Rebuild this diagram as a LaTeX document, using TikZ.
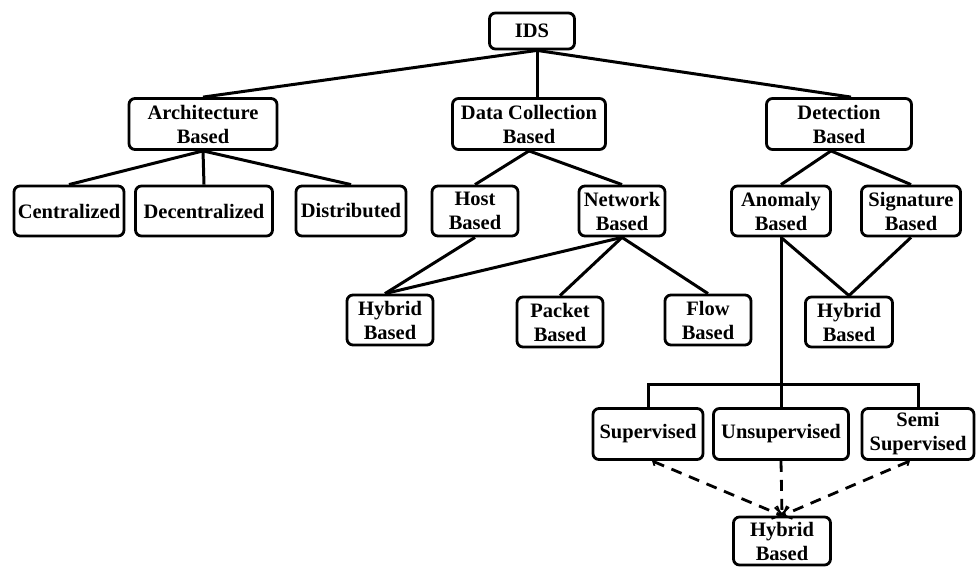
\documentclass[tikz,border=0pt]{standalone}
\usepackage{fontspec}
\setmainfont{Liberation Serif}
\usetikzlibrary{arrows.meta}
\begin{document}
\begin{tikzpicture}[x=1pt,y=-1pt,
  box/.style={draw, line width=2.8pt, rounded corners=6pt, inner sep=0pt, align=center,
    font=\fontsize{20.5}{24}\selectfont\bfseries},
  conn/.style={line width=3pt},
  dconn/.style={line width=2.8pt, dash pattern=on 11pt off 8pt},
  tip/.style={-{Straight Barb[length=7pt,width=14pt,line width=2pt]}},
  ttip/.style={{Straight Barb[length=3pt,width=7pt,line width=1.8pt]}-{Straight Barb[length=7pt,width=14pt,line width=2pt]}}
]
\useasboundingbox (0,0) rectangle (976,567);
\node[box, minimum width=85pt, minimum height=36pt] (ids) at (532,31) {IDS};
\node[box, minimum width=148pt, minimum height=51pt] (arch) at (203,124) {Architecture\\Based};
\node[box, minimum width=153pt, minimum height=51pt] (data) at (529,124) {Data Collection\\Based};
\node[box, minimum width=145pt, minimum height=51pt] (det) at (839,124) {Detection\\Based};
\node[box, minimum width=110pt, minimum height=50pt] (cen) at (69,211) {Centralized};
\node[box, minimum width=137pt, minimum height=50pt] (dec) at (204,211) {Decentralized};
\node[box, minimum width=110pt, minimum height=50pt] (dis) at (351,211) {Distributed};
\node[box, minimum width=86pt, minimum height=50pt] (host) at (475,211) {Host\\Based};
\node[box, minimum width=86pt, minimum height=50pt] (net) at (622,211) {Network\\Based};
\node[box, minimum width=99pt, minimum height=50pt] (anom) at (781,211) {Anomaly\\Based};
\node[box, minimum width=99pt, minimum height=50pt] (sig) at (911,211) {Signature\\Based};
\node[box, minimum width=86pt, minimum height=50pt] (hyba) at (390,320) {Hybrid\\Based};
\node[box, minimum width=86pt, minimum height=50pt] (pack) at (560,322) {Packet\\Based};
\node[box, minimum width=86pt, minimum height=50pt] (flow) at (708,320) {Flow\\Based};
\node[box, minimum width=87pt, minimum height=50pt] (hybb) at (849,322) {Hybrid\\Based};
\node[box, minimum width=110pt, minimum height=51pt] (sup) at (648,434) {Supervised};
\node[box, minimum width=135pt, minimum height=51pt] (uns) at (781,434) {Unsupervised};
\node[box, minimum width=112pt, minimum height=51pt] (semi) at (918,434) {Semi\\Supervised};
\node[box, minimum width=97pt, minimum height=48pt] (hybc) at (782,541) {Hybrid\\Based};
\coordinate (bar) at (781,384);
% connectors
\draw[conn] ([xshift=5pt]ids.south) -- (arch.north);
\draw[conn] ([xshift=5pt]ids.south) -- ([xshift=8pt]data.north);
\draw[conn] ([xshift=5pt]ids.south) -- ([xshift=12pt]det.north);
\draw[conn] (arch.south) -- (cen.north);
\draw[conn] (arch.south) -- (dec.north);
\draw[conn] (arch.south) -- (dis.north);
\draw[conn] (data.south) -- (host.north);
\draw[conn] (data.south) -- (net.north);
\draw[conn] ([xshift=-8pt]det.south) -- (anom.north);
\draw[conn] ([xshift=-8pt]det.south) -- (sig.north);
\draw[conn] (host.south) -- ([xshift=-5pt]hyba.north);
\draw[conn] (net.south) -- ([xshift=-5pt]hyba.north);
\draw[conn] (net.south) -- (pack.north);
\draw[conn] (net.south) -- (flow.north);
\draw[conn] (anom.south) -- (hybb.north);
\draw[conn] (sig.south) -- (hybb.north);
\draw[conn] (anom.south) -- (uns.north);
\draw[conn] (sup.north) |- (bar) -| (semi.north);
\draw[dconn, ttip] ([xshift=4pt]sup.south) -- (hybc.north);
\draw[dconn, tip] (uns.south) -- (hybc.north);
\draw[dconn, ttip] ([xshift=-8pt]semi.south) -- (hybc.north);
\end{tikzpicture}
\end{document}
